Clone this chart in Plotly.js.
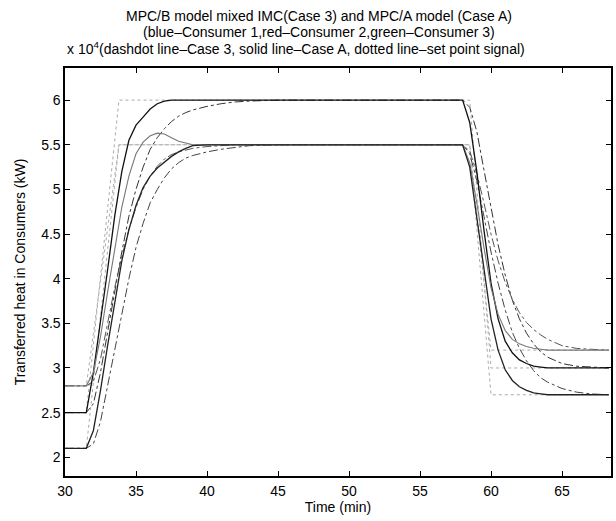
<!DOCTYPE html>
<html>
<head>
<meta charset="utf-8">
<script src="https://cdn.plot.ly/plotly-3.0.1.min.js"></script>
<style>html,body{margin:0;padding:0;background:#fff;}#chart{width:616px;height:521px;}</style>
</head>
<body>
<div id="chart"></div>
<script>
// Time axis (min)
const time = [30, 31.5, 32, 32.5, 33, 33.5, 34, 34.5, 35, 35.5, 36, 36.5, 37, 37.5, 38, 38.5, 39, 40, 41, 42, 43, 45, 50, 55, 58, 58.5, 59, 59.5, 60, 60.5, 61, 61.5, 62, 62.5, 63, 63.5, 64, 65, 66, 67, 68.3];

// Case A (solid lines), values in x10^4 kW
const caseA_consumer1 = [2.5, 2.5, 2.95, 3.5, 4.1, 4.7, 5.2, 5.55, 5.72, 5.81, 5.9, 5.96, 5.99, 6.0, 6.0, 6.0, 6.0, 6.0, 6.0, 6.0, 6.0, 6.0, 6.0, 6.0, 6.0, 5.75, 5.2, 4.55, 3.95, 3.55, 3.3, 3.17, 3.09, 3.05, 3.02, 3.01, 3.0, 3.0, 3.0, 3.0, 3.0];
const caseA_consumer2 = [2.8, 2.8, 2.95, 3.35, 3.85, 4.35, 4.8, 5.15, 5.4, 5.53, 5.6, 5.63, 5.62, 5.58, 5.54, 5.52, 5.5, 5.5, 5.5, 5.5, 5.5, 5.5, 5.5, 5.5, 5.5, 5.3, 4.85, 4.35, 3.9, 3.6, 3.42, 3.32, 3.27, 3.24, 3.22, 3.21, 3.2, 3.2, 3.2, 3.2, 3.2];
const caseA_consumer3 = [2.1, 2.1, 2.3, 2.75, 3.25, 3.75, 4.2, 4.55, 4.82, 5.02, 5.15, 5.24, 5.31, 5.37, 5.42, 5.46, 5.49, 5.5, 5.5, 5.5, 5.5, 5.5, 5.5, 5.5, 5.5, 5.25, 4.7, 4.1, 3.55, 3.2, 2.98, 2.86, 2.79, 2.75, 2.72, 2.71, 2.7, 2.7, 2.7, 2.7, 2.7];

// Case 3 (dashdot lines)
const case3_consumer1 = [2.5, 2.5, 2.6, 2.95, 3.4, 3.85, 4.3, 4.7, 5.0, 5.25, 5.45, 5.58, 5.68, 5.76, 5.82, 5.86, 5.89, 5.93, 5.96, 5.98, 5.99, 6.0, 6.0, 6.0, 6.0, 5.92, 5.65, 5.22, 4.78, 4.38, 4.04, 3.76, 3.55, 3.39, 3.27, 3.18, 3.12, 3.05, 3.02, 3.01, 3.0];
const case3_consumer2 = [2.8, 2.8, 2.85, 3.1, 3.5, 3.9, 4.25, 4.55, 4.8, 5.0, 5.15, 5.26, 5.34, 5.39, 5.42, 5.44, 5.46, 5.48, 5.49, 5.5, 5.5, 5.5, 5.5, 5.5, 5.5, 5.43, 5.18, 4.85, 4.5, 4.2, 3.96, 3.77, 3.62, 3.51, 3.43, 3.37, 3.32, 3.25, 3.22, 3.21, 3.2];
const case3_consumer3 = [2.1, 2.1, 2.15, 2.4, 2.8, 3.2, 3.6, 4.0, 4.35, 4.62, 4.85, 5.0, 5.13, 5.23, 5.3, 5.35, 5.38, 5.42, 5.45, 5.47, 5.49, 5.5, 5.5, 5.5, 5.5, 5.4, 5.1, 4.7, 4.3, 3.95, 3.65, 3.4, 3.22, 3.08, 2.97, 2.89, 2.84, 2.77, 2.73, 2.71, 2.7];

// Set point signals (dotted lines)
const timeSet = [30, 31.5, 33.8, 58.5, 60, 68.3];
const set_consumer1 = [2.5, 2.5, 6.0, 6.0, 3.0, 3.0];
const set_consumer2 = [2.8, 2.8, 5.5, 5.5, 3.2, 3.2];
const set_consumer3 = [2.1, 2.1, 5.5, 5.5, 2.7, 2.7];

const yTicks = [2, 2.5, 3, 3.5, 4, 4.5, 5, 5.5, 6];
const xTicks = [30, 35, 40, 45, 50, 55, 60, 65];

const titleLines = [
  'MPC/B model mixed IMC(Case 3) and MPC/A model (Case A)',
  '(blue–Consumer 1,red–Consumer 2,green–Consumer 3)',
  '(dashdot line–Case 3, solid line–Case A, dotted line–set point signal)'
];

const FONT = 'Liberation Sans, Arial, Helvetica, sans-serif';
const FS = 14;

function tr(x, y, color, dash, width) {
  return {x: x, y: y, type: 'scatter', mode: 'lines', showlegend: false, hoverinfo: 'skip',
    line: {color: color, dash: dash, width: width}};
}

const data = [
  tr(timeSet, set_consumer1, '#aaa', 'dot', 1),
  tr(timeSet, set_consumer2, '#aaa', 'dot', 1),
  tr(timeSet, set_consumer3, '#aaa', 'dot', 1),
  tr(time, case3_consumer1, '#333', 'dashdot', 1),
  tr(time, case3_consumer2, '#555', 'dashdot', 1),
  tr(time, case3_consumer3, '#444', 'dashdot', 1),
  tr(time, caseA_consumer1, '#111', 'solid', 1.3),
  tr(time, caseA_consumer2, '#777', 'solid', 1.1),
  tr(time, caseA_consumer3, '#222', 'solid', 1.3)
];

function tann(text, x, xanchor, y) {
  return {text: text, xref: 'paper', yref: 'paper', x: x, y: y, xanchor: xanchor, yanchor: 'middle',
    showarrow: false, font: {family: FONT, size: FS, color: '#000'}};
}

const layout = {
  width: 616, height: 521,
  margin: {l: 65, r: 5, t: 68, b: 45},
  paper_bgcolor: '#fff', plot_bgcolor: '#fff',
  font: {family: FONT, size: FS, color: '#000'},
  xaxis: {
    range: [30, 68.45], tickvals: xTicks, ticktext: xTicks.map(String),
    showgrid: false, zeroline: false, showline: true, linecolor: '#000', linewidth: 1.6,
    mirror: 'ticks', ticks: 'inside', ticklen: 5, tickcolor: '#000', tickwidth: 1,
    ticklabelstandoff: 2,
    tickfont: {family: FONT, size: FS, color: '#000'},
    title: {text: 'Time (min)', font: {family: FONT, size: FS, color: '#000'}, standoff: 1}
  },
  yaxis: {
    range: [1.79, 6.36], tickvals: yTicks, ticktext: yTicks.map(String),
    showgrid: false, zeroline: false, showline: true, linecolor: '#000', linewidth: 1.6,
    mirror: 'ticks', ticks: 'inside', ticklen: 5, tickcolor: '#000', tickwidth: 1,
    tickfont: {family: FONT, size: FS, color: '#000'},
    title: {text: 'Transferred heat in Consumers (kW)', font: {family: FONT, size: FS, color: '#000'}, standoff: 12}
  },
  annotations: [
    tann(titleLines[0], 0.465, 'center', 1 + 52 / 408),
    tann(titleLines[1], 0.465, 'center', 1 + 36 / 408),
    tann(titleLines[2], 32 / 546, 'left', 1 + 19 / 408),
    tann('x 10<sup>4</sup>', 0, 'left', 1 + 20 / 408)
  ]
};

Plotly.newPlot('chart', data, layout, {staticPlot: true, displayModeBar: false});
</script>
</body>
</html>
